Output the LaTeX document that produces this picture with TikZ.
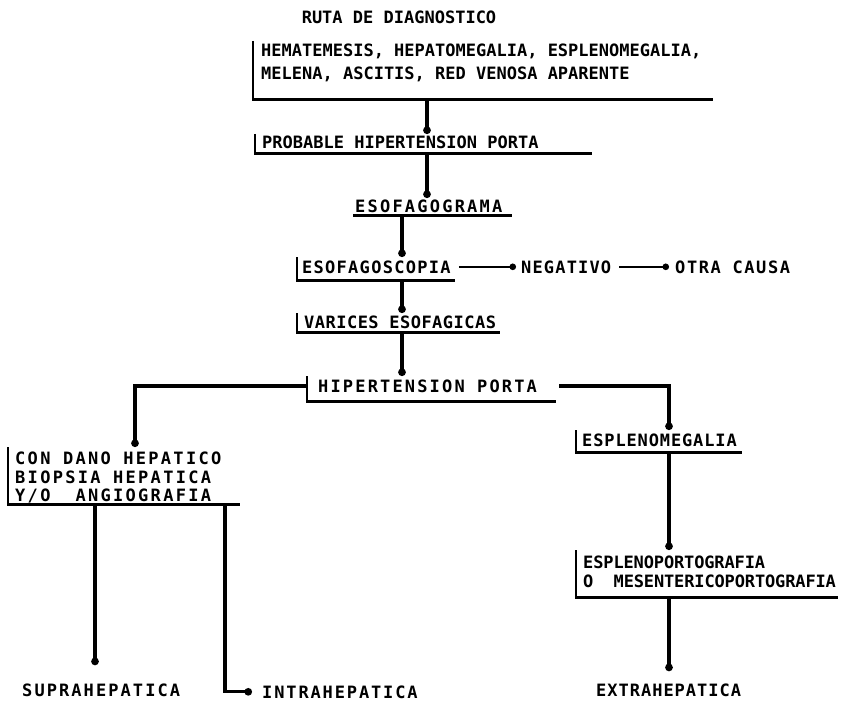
\documentclass[tikz,border=0pt]{standalone}
\usepackage{fontspec}
\newfontfamily\typew{DejaVu Sans Mono}
\usetikzlibrary{arrows.meta}
\tikzset{
  txt/.style={inner sep=0pt, font=\typew\bfseries\fontsize{17bp}{23bp}\selectfont, align=left},
  ls/.style={font=\typew\bfseries\fontsize{17bp}{23bp}\selectfont\addfontfeatures{LetterSpace=#1}},
  lsm/.style={font=\typew\bfseries\fontsize{17bp}{18.5bp}\selectfont\addfontfeatures{LetterSpace=#1}},
  frame/.style={draw=none, inner sep=0pt, anchor=north west},
  brk/.style={line width=2.5bp},
  conn/.style={line width=3.1bp, -{Circle[length=7.5bp]}},
  hconn/.style={line width=2.2bp, -{Circle[length=6.5bp]}},
}
\begin{document}
\begin{tikzpicture}[x=1bp,y=-1bp]
\useasboundingbox (0,0) rectangle (844,717);

% title
\node[txt, anchor=base] (title) at (399,24) {RUTA DE DIAGNOSTICO};

% box 1
\node[frame, minimum width=460bp, minimum height=58bp] (f1) at (253,41) {};
\node[txt, anchor=north west] (t1) at (261,44) {HEMATEMESIS, HEPATOMEGALIA, ESPLENOMEGALIA,\\MELENA, ASCITIS, RED VENOSA APARENTE};
\draw[brk] (f1.north west) |- (f1.south east);

% box 2
\node[frame, minimum width=337bp, minimum height=19bp] (f2) at (255,134) {};
\node[txt, anchor=base west] (t2) at (262,149) {PROBABLE HIPERTENSION PORTA};
\draw[brk] (f2.north west) |- (f2.south east);

% esofagograma
\node[frame, minimum width=159bp, minimum height=17bp] (f4) at (353,198) {};
\node[txt, ls=13, anchor=base west] (t4) at (355,212) {ESOFAGOGRAMA};
\draw[brk] (f4.south west) -- (f4.south east);

% esofagoscopia
\node[frame, minimum width=158bp, minimum height=23bp] (f5) at (297,257) {};
\node[txt, ls=7.5, anchor=base west] (t5) at (302,273) {ESOFAGOSCOPIA};
\draw[brk] (f5.north west) |- (f5.south east);
\node[txt, ls=6.8, anchor=base west] (neg) at (521,273) {NEGATIVO};
\node[txt, ls=9.2, anchor=base west] (otra) at (675,273) {OTRA CAUSA};

% varices
\node[frame, minimum width=203bp, minimum height=19bp] (f7) at (297,313) {};
\node[txt, ls=2.8, anchor=base west] (t7) at (304,328) {VARICES ESOFAGICAS};
\draw[brk] (f7.north west) |- (f7.south east);

% hipertension porta
\node[frame, minimum width=249bp, minimum height=25bp] (f8) at (307,376) {};
\node[txt, ls=12.7, anchor=base west] (t8) at (318,392) {HIPERTENSION PORTA};
\draw[brk] (f8.north west) |- (f8.south east);

% esplenomegalia
\node[frame, minimum width=166bp, minimum height=22bp] (f9) at (576,430) {};
\node[txt, ls=5.1, anchor=base west] (t9) at (582,446) {ESPLENOMEGALIA};
\draw[brk] (f9.north west) |- (f9.south east);

% con dano hepatico
\node[frame, minimum width=232bp, minimum height=57bp] (f10) at (8,447) {};
\node[txt, lsm=13.5, anchor=north west] (t10) at (15,452) {CON DANO HEPATICO\\BIOPSIA HEPATICA\\Y/O~~ANGIOGRAFIA};
\draw[brk] (f10.north west) |- (f10.south east);

% esplenoportografia
\node[frame, minimum width=262bp, minimum height=47bp] (f11) at (576,550) {};
\node[txt, lsm=-0.8, anchor=north west] (t11) at (583,556) {ESPLENOPORTOGRAFIA\\O~~MESENTERICOPORTOGRAFIA};
\draw[brk] (f11.north west) |- (f11.south east);

% final results
\node[txt, ls=12.2, anchor=base west] (supra) at (22,696) {SUPRAHEPATICA};
\node[txt, ls=11, anchor=base west] (intra) at (262,698) {INTRAHEPATICA};
\node[txt, ls=5.8, anchor=base west] (extra) at (596,696) {EXTRAHEPATICA};

% connectors
\draw[conn] (427,0 |- f1.south) -- (427,0 |- f2.north);
\draw[conn] (427,0 |- f2.south) -- (427,0 |- f4.north);
\draw[conn] (402,0 |- f4.south) -- (402,0 |- f5.north);
\draw[hconn, shorten <=8bp, shorten >=5bp] (t5.east) -- (neg.west);
\draw[hconn, shorten <=8bp, shorten >=6bp] (neg.east) -- (otra.west);
\draw[conn] (402,0 |- f5.south) -- (402,0 |- f7.north);
\draw[conn] (402,0 |- f7.south) -- (402,0 |- f8.north);
\draw[conn] ([yshift=-10bp]f8.north west) -| (135,0 |- f10.north);
\draw[conn] ([xshift=3bp,yshift=-10bp]f8.north east) -| (669,0 |- f9.north);
\draw[conn] (669,0 |- f9.south) -- (669,0 |- f11.north);
\draw[conn, shorten >=18bp] (95,0 |- f10.south) -- (95,0 |- supra.north);
\draw[conn, shorten >=10bp] (225,0 |- f10.south) |- (intra.west);
\draw[conn, shorten >=12bp] (669,0 |- f11.south) -- (669,0 |- extra.north);
\end{tikzpicture}
\end{document}
